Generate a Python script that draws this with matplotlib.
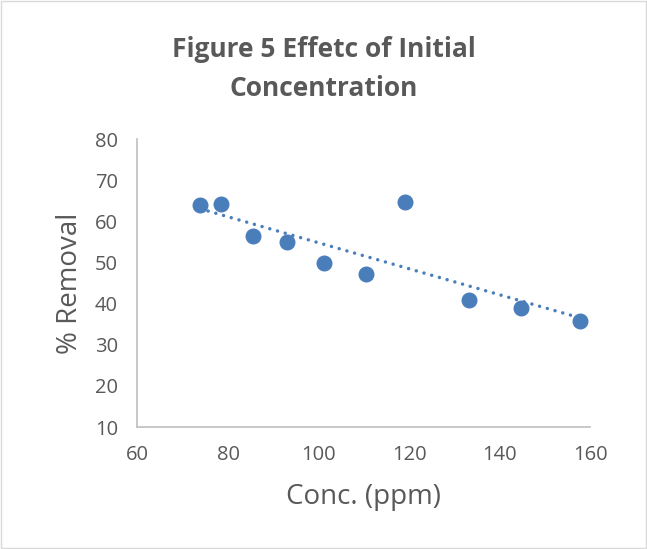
import numpy as np
import matplotlib.pyplot as plt

plt.rcParams['font.family'] = ['Open Sans', 'DejaVu Sans']

conc = [73.9, 78.4, 85.5, 93.0, 101.2, 110.4, 119.2, 133.2, 144.8, 157.7]
removal = [63.9, 64.2, 56.5, 55.0, 49.9, 47.2, 64.8, 40.9, 39.0, 35.7]
x_ticks = [60, 80, 100, 120, 140, 160]
y_ticks = [10, 20, 30, 40, 50, 60, 70, 80]

blue = '#4a7ebb'
gray = '#595959'

fig = plt.figure(figsize=(6.47, 5.49), dpi=100)
ax = fig.add_axes([0.2125, 0.2222, 0.6995, 0.5246])

ax.plot(conc, removal, 'o', color=blue, markersize=10.5, zorder=3)

# linear trendline
k, b = np.polyfit(conc, removal, 1)
xs = np.array([min(conc), max(conc)])
ax.plot(xs, k * xs + b, linestyle=(0, (0.01, 2.3)), color=blue, linewidth=2.5,
        dash_capstyle='round', zorder=2)

ax.set_xlim(60, 160)
ax.set_ylim(10, 80)
ax.set_xticks(x_ticks)
ax.set_yticks(y_ticks)
ax.tick_params(length=0, labelsize=14.5, labelcolor=gray)
ax.tick_params(axis='x', pad=13)
ax.tick_params(axis='y', pad=14)
for s in ['top', 'right']:
    ax.spines[s].set_visible(False)
for s in ['left', 'bottom']:
    ax.spines[s].set_color('#bfbfbf')
    ax.spines[s].set_linewidth(1.2)

ax.set_xlabel('Conc. (ppm)', fontsize=20, color=gray, labelpad=13)
ax.set_ylabel('% Removal', fontsize=20, color=gray, labelpad=8)
fig.text(0.5, 0.874, 'Figure 5 Effetc of Initial\nConcentration', ha='center', va='center',
         fontsize=19, fontweight='bold', color=gray, linespacing=1.55)

fig.patches.append(plt.Rectangle((0.002, 0.002), 0.996, 0.996, transform=fig.transFigure,
                                 fill=False, edgecolor='#d9d9d9', linewidth=1))

fig.savefig('out.png', dpi=100)
